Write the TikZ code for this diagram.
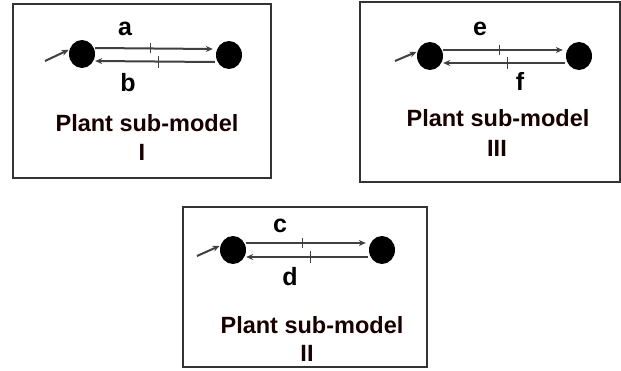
\documentclass[tikz,border=0pt]{standalone}
\usepackage{fontspec}
\setmainfont{Liberation Sans}
\usetikzlibrary{arrows.meta,calc,shapes.geometric}
\begin{document}
\begin{tikzpicture}[x=1pt,y=-1pt,
  panel/.style={draw=black!80,line width=1.8pt},
  dot/.style={ellipse,fill=black,draw=none,minimum width=26pt,minimum height=28pt,inner sep=0pt},
  flow/.style={draw=black!75,line width=2pt,-{Stealth[length=7pt,width=6pt]}},
  tickl/.style={draw=black!75,line width=1.6pt},
  lab/.style={font=\bfseries\fontsize{25}{28}\selectfont,inner sep=0pt},
  ttl/.style={font=\bfseries\fontsize{23.5}{27}\selectfont,inner sep=0pt,text=black!90!red}]
\useasboundingbox (0,0) rectangle (621,370);
\fill[white] (0,0) rectangle (621,370);

% Panel I
\draw[panel] (13,4) rectangle (271,178);
\node[dot] (L1) at (82,54) {};
\node[dot] (R1) at (229,55) {};
\coordinate (S1) at (45,61);
\draw[flow] ([yshift=6pt]L1.east) -- coordinate[pos=0.47] (t1a) ([yshift=6pt,xshift=-3pt]R1.west);
\draw[flow] ([yshift=-7pt,xshift=-1pt]R1.west) -- coordinate[pos=0.47] (t1b) ([yshift=-7pt]L1.east);
\draw[tickl] ([yshift=5pt]t1a) -- ([yshift=-5pt]t1a);
\draw[tickl] ([yshift=6pt]t1b) -- ([yshift=-6pt]t1b);
\draw[flow,shorten >=1pt] (S1) -- (L1.160);
\node[lab] (a) at (125,29) {a};
\node[lab] (b) at (128,83) {b};
\node[ttl] (p1) at (147,123) {Plant sub-model};
\node[ttl] (n1) at (142,152) {I};

% Panel III
\draw[panel] (360,2) rectangle (620,182);
\node[dot] (L3) at (430,56) {};
\node[dot] (R3) at (579,56) {};
\coordinate (S3) at (395,61);
\draw[flow] ([yshift=6pt]L3.east) -- coordinate[pos=0.47] (t3a) ([yshift=6pt,xshift=-3pt]R3.west);
\draw[flow] ([yshift=-7pt,xshift=-1pt]R3.west) -- coordinate[pos=0.47] (t3b) ([yshift=-7pt]L3.east);
\draw[tickl] ([yshift=5pt]t3a) -- ([yshift=-5pt]t3a);
\draw[tickl] ([yshift=6pt]t3b) -- ([yshift=-6pt]t3b);
\draw[flow,shorten >=1pt] (S3) -- (L3.160);
\node[lab] (e) at (480,29) {e};
\node[lab] (f) at (520,81) {f};
\node[ttl] (p3) at (498,118) {Plant sub-model};
\node[ttl] (n3) at (497,148) {III};

% Panel II
\draw[panel] (183,207) rectangle (427,367);
\node[dot] (L2) at (233,250) {};
\node[dot] (R2) at (382,250) {};
\coordinate (S2) at (197,256);
\draw[flow] ([yshift=7pt]L2.east) -- coordinate[pos=0.47] (t2a) ([yshift=7pt,xshift=-3pt]R2.west);
\draw[flow] ([yshift=-7pt,xshift=-1pt]R2.west) -- coordinate[pos=0.47] (t2b) ([yshift=-7pt]L2.east);
\draw[tickl] ([yshift=5pt]t2a) -- ([yshift=-5pt]t2a);
\draw[tickl] ([yshift=6pt]t2b) -- ([yshift=-6pt]t2b);
\draw[flow,shorten >=1pt] (S2) -- (L2.160);
\node[lab] (c) at (280,226) {c};
\node[lab] (d) at (290,277) {d};
\node[ttl] (p2) at (312,325) {Plant sub-model};
\node[ttl] (n2) at (307,353) {II};
\end{tikzpicture}
\end{document}
